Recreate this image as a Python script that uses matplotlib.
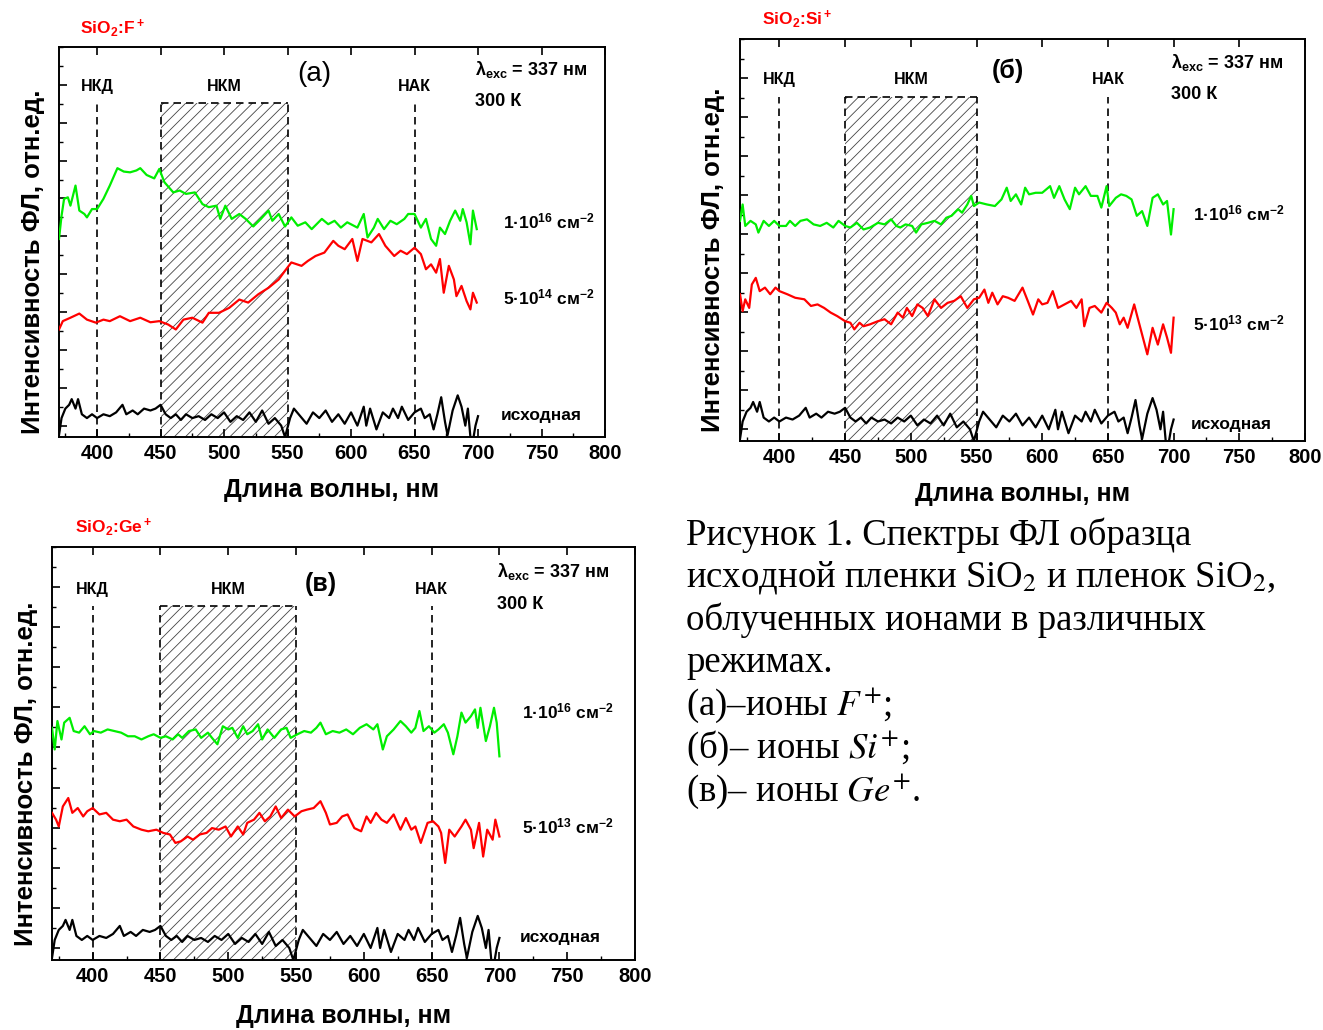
import matplotlib
matplotlib.use('Agg')
import matplotlib.pyplot as plt
from matplotlib.patches import Rectangle
from matplotlib.ticker import MultipleLocator

plt.rcParams['font.family'] = ['Liberation Sans', 'DejaVu Sans']
plt.rcParams['mathtext.fontset'] = 'custom'
plt.rcParams['mathtext.rm'] = 'Liberation Sans:bold'
plt.rcParams['mathtext.it'] = 'Liberation Sans:italic:bold'
plt.rcParams['mathtext.bf'] = 'Liberation Sans:bold'
plt.rcParams['hatch.linewidth'] = 0.6

# ---------------- data (relative units) ----------------
black_nm = [370, 372, 375, 378, 380, 383, 385, 388, 392, 396, 400, 405, 410, 415, 420, 423, 428, 432,
            437, 442, 446, 450, 454, 458, 462, 466, 470, 475, 480, 485, 490, 495, 500, 505, 510, 515,
            520, 525, 530, 535, 540, 545, 548, 552, 555, 560, 565, 570, 575, 580, 585, 590, 595, 600,
            605, 610, 612, 615, 620, 625, 630, 633, 637, 640, 645, 650, 655, 658, 662, 665, 668, 671,
            674, 676, 680, 684, 687, 690, 692, 694, 696, 698, 700]
black_v = [-0.25, 0.2, 0.45, 0.55, 0.7, 0.45, 0.7, 0.3, 0.2, 0.3, 0.2, 0.3, 0.25, 0.35, 0.55, 0.3, 0.4, 0.3,
           0.45, 0.4, 0.45, 0.55, 0.3, 0.2, 0.3, 0.15, 0.3, 0.2, 0.25, 0.15, 0.3, 0.2, 0.35, 0.1, 0.25, 0.15,
           0.35, 0.1, 0.4, 0.05, 0.2, 0.0, -0.3, 0.2, 0.45, 0.25, 0.05, 0.35, 0.2, 0.4, 0.1, 0.3, 0.05, 0.35,
           0.0, 0.5, 0.0, 0.45, -0.1, 0.35, 0.2, 0.45, 0.2, 0.5, 0.15, 0.35, 0.45, 0.2, 0.3, -0.1, 0.3, 0.75,
           0.1, -0.25, 0.4, 0.8, 0.5, 0.0, 0.45, -0.3, -0.4, 0.0, 0.25]

# panel (a) SiO2:F+
a_green_nm = [370, 372, 374, 377, 379, 383, 386, 390, 392, 396, 400, 405, 410, 416, 421, 426, 431, 434,
              439, 445, 449, 453, 460, 465, 470, 477, 483, 488, 494, 497, 501, 506, 512, 517, 523, 529,
              535, 538, 543, 548, 553, 558, 564, 569, 577, 582, 587, 592, 597, 605, 610, 613, 618, 621,
              626, 631, 636, 642, 645, 650, 655, 659, 663, 667, 670, 674, 678, 682, 686, 688, 691, 694,
              696, 699]
a_green_v = [4.93, 5.54, 5.99, 6.03, 5.81, 6.34, 5.68, 5.59, 5.50, 5.72, 5.72, 5.99, 6.34, 6.80, 6.71,
             6.69, 6.74, 6.80, 6.62, 6.53, 6.78, 6.43, 6.16, 6.21, 6.12, 6.16, 5.85, 5.77, 5.81, 5.46,
             5.81, 5.46, 5.59, 5.46, 5.26, 5.46, 5.68, 5.41, 5.59, 5.26, 5.50, 5.28, 5.37, 5.19, 5.46,
             5.32, 5.41, 5.23, 5.37, 5.23, 5.59, 4.97, 5.23, 5.46, 5.19, 5.41, 5.32, 5.46, 5.59, 5.59,
             5.23, 5.46, 4.93, 4.75, 5.23, 5.06, 5.41, 5.68, 5.41, 5.72, 5.37, 4.79, 5.68, 5.19]
a_red_nm = [370, 373, 379, 386, 392, 399, 405, 410, 418, 426, 434, 442, 449, 456, 462, 468, 475, 483,
            488, 496, 504, 512, 519, 527, 535, 543, 548, 553, 561, 566, 572, 579, 586, 590, 595, 601,
            605, 609, 616, 622, 627, 634, 639, 644, 650, 655, 659, 663, 667, 670, 673, 677, 681, 683,
            687, 691, 694, 696, 699]
a_red_v = [2.54, 2.76, 2.85, 2.96, 2.80, 2.72, 2.80, 2.76, 2.89, 2.76, 2.85, 2.73, 2.76, 2.67, 2.54,
           2.80, 2.85, 2.72, 2.98, 2.98, 3.11, 3.33, 3.25, 3.47, 3.64, 3.86, 4.09, 4.31, 4.22, 4.35,
           4.48, 4.57, 4.88, 4.75, 4.66, 4.93, 4.35, 4.93, 4.84, 5.06, 4.75, 4.48, 4.62, 4.53, 4.70,
           4.53, 4.13, 4.26, 4.04, 4.40, 3.51, 4.22, 3.86, 3.42, 3.69, 3.29, 3.07, 3.51, 3.25]

# panel (б) SiO2:Si+
b_green_nm = [370, 372, 374, 378, 382, 384, 388, 392, 396, 400, 405, 408, 412, 416, 421, 426, 431, 436,
              441, 445, 450, 454, 459, 464, 469, 475, 480, 485, 489, 492, 496, 501, 504, 508, 513, 518,
              523, 527, 531, 536, 539, 543, 546, 548, 552, 558, 564, 569, 573, 576, 580, 584, 587, 590,
              595, 600, 606, 609, 613, 617, 621, 625, 628, 633, 637, 642, 645, 649, 651, 656, 660, 664,
              668, 672, 676, 680, 684, 688, 692, 695, 698, 700]
b_green_v = [5.34, 5.76, 5.21, 5.34, 5.25, 5.04, 5.34, 5.21, 5.34, 5.21, 5.21, 5.34, 5.21, 5.34, 5.38,
             5.25, 5.21, 5.29, 5.17, 5.34, 5.21, 5.17, 5.29, 5.12, 5.17, 5.29, 5.25, 5.38, 5.21, 5.17,
             5.25, 5.21, 5.04, 5.25, 5.29, 5.34, 5.25, 5.42, 5.47, 5.64, 5.55, 5.76, 5.98, 5.72, 5.81,
             5.76, 5.72, 5.89, 6.19, 5.85, 6.02, 5.76, 6.19, 6.02, 6.06, 6.06, 6.23, 5.93, 6.23, 5.89,
             5.64, 6.19, 6.02, 6.23, 5.98, 5.98, 5.68, 6.23, 5.72, 5.93, 6.02, 5.98, 5.89, 5.47, 5.59,
             5.21, 5.93, 6.02, 5.76, 5.85, 4.99, 5.64]
b_red_nm = [370, 372, 374, 377, 379, 382, 385, 389, 393, 397, 400, 406, 412, 419, 424, 429, 434, 439,
            444, 450, 454, 457, 461, 464, 469, 475, 480, 485, 490, 494, 497, 501, 505, 509, 513, 518,
            523, 528, 533, 538, 543, 548, 552, 556, 559, 562, 566, 570, 574, 579, 585, 589, 593, 597,
            600, 604, 608, 612, 617, 622, 626, 630, 632, 636, 640, 645, 649, 653, 656, 659, 662, 665,
            670, 672, 676, 680, 684, 688, 692, 695, 698, 700]
b_red_v = [3.46, 3.03, 3.33, 3.11, 3.71, 3.88, 3.54, 3.63, 3.46, 3.63, 3.54, 3.46, 3.37, 3.33, 3.16,
           3.20, 3.11, 2.99, 2.90, 2.77, 2.73, 2.56, 2.73, 2.64, 2.69, 2.77, 2.82, 2.69, 2.99, 2.86,
           3.11, 2.90, 3.20, 3.11, 2.90, 3.33, 3.11, 3.24, 3.29, 3.41, 3.11, 3.33, 3.37, 3.58, 3.24,
           3.50, 3.20, 3.41, 3.37, 3.29, 3.63, 3.29, 2.94, 3.33, 3.20, 3.24, 3.54, 3.11, 3.20, 3.29,
           3.11, 3.33, 2.64, 3.11, 3.16, 2.99, 3.24, 3.11, 2.99, 2.69, 2.86, 2.60, 3.20, 2.94, 2.43,
           1.92, 2.60, 2.17, 2.69, 2.35, 1.96, 2.86]

# panel (в) SiO2:Ge+
c_green_nm = [370, 372, 374, 377, 379, 383, 386, 390, 394, 398, 401, 406, 411, 416, 421, 426, 431, 436,
              441, 445, 450, 454, 459, 463, 466, 471, 476, 480, 485, 488, 492, 496, 500, 503, 507, 511,
              514, 518, 522, 525, 529, 534, 539, 543, 546, 551, 556, 561, 565, 568, 572, 577, 582, 587,
              592, 597, 602, 607, 610, 614, 617, 622, 627, 631, 635, 638, 641, 644, 648, 652, 655, 659,
              662, 666, 669, 672, 675, 679, 682, 684, 686, 690, 693, 696, 698, 700]
c_green_v = [5.49, 4.95, 5.66, 5.20, 5.62, 5.74, 5.41, 5.37, 5.53, 5.33, 5.41, 5.37, 5.45, 5.41, 5.37,
             5.28, 5.28, 5.20, 5.28, 5.33, 5.24, 5.28, 5.20, 5.33, 5.24, 5.41, 5.45, 5.24, 5.37, 5.24,
             5.08, 5.53, 5.45, 5.49, 5.24, 5.53, 5.33, 5.41, 5.58, 5.20, 5.45, 5.24, 5.45, 5.49, 5.24,
             5.33, 5.41, 5.37, 5.49, 5.62, 5.33, 5.41, 5.37, 5.45, 5.33, 5.49, 5.58, 5.45, 5.58, 4.95,
             5.28, 5.45, 5.66, 5.53, 5.37, 5.49, 5.91, 5.41, 5.53, 5.37, 5.45, 5.58, 5.37, 4.83, 5.28,
             5.87, 5.62, 5.78, 5.95, 5.49, 5.99, 5.16, 5.53, 5.99, 5.62, 4.78]
c_red_nm = [370, 373, 375, 378, 382, 385, 389, 393, 396, 400, 405, 410, 415, 420, 425, 430, 436, 441,
            447, 452, 457, 461, 465, 470, 474, 479, 484, 488, 493, 498, 502, 507, 511, 514, 519, 523,
            527, 531, 535, 539, 544, 549, 554, 558, 563, 568, 572, 575, 580, 584, 588, 593, 598, 602,
            605, 609, 613, 617, 622, 627, 631, 635, 638, 642, 647, 651, 655, 657, 660, 663, 667, 672,
            675, 679, 681, 685, 688, 691, 695, 697, 700]
c_red_v = [3.37, 3.20, 3.03, 3.53, 3.74, 3.37, 3.49, 3.28, 3.41, 3.49, 3.33, 3.37, 3.20, 3.16, 3.20,
           3.03, 2.95, 2.91, 2.95, 2.87, 2.83, 2.62, 2.66, 2.78, 2.70, 2.83, 2.87, 2.99, 2.95, 3.03,
           2.78, 3.03, 2.83, 3.12, 3.20, 3.37, 3.16, 3.28, 3.53, 3.24, 3.45, 3.28, 3.41, 3.45, 3.49,
           3.66, 3.37, 3.08, 3.12, 3.28, 3.33, 2.99, 2.91, 3.28, 3.12, 3.37, 3.20, 3.12, 3.33, 2.95,
           3.24, 2.95, 3.03, 2.62, 3.12, 3.16, 3.03, 2.87, 2.12, 2.95, 2.78, 3.03, 3.20, 2.95, 2.49,
           3.12, 2.28, 2.95, 2.70, 3.20, 2.78]

xticks = [400, 450, 500, 550, 600, 650, 700, 750, 800]
region_lines = [400, 650]
region_names = ['НКД', 'НАК']
nkm_range = [450, 550]
nkm_top = 8.52
ymin, ymax = -0.3, 10.0

W, H = 1323, 1030
fig = plt.figure(figsize=(W / 100, H / 100), dpi=100)


def px_axes(l, t, r, b):
    return fig.add_axes([l / W, 1 - b / H, (r - l) / W, (b - t) / H])


def panel(ax, title, title_xy, letter, letter_kw, hi_label, lo_label,
          gnm, gv, rnm, rv, lab_x, hi_y, lo_y, base_y, ylab_x, xlab_y):
    ax.set_xlim(370, 800)
    ax.set_ylim(ymin, ymax)
    # hatched НКМ region
    ax.add_patch(Rectangle((nkm_range[0], ymin), nkm_range[1] - nkm_range[0], nkm_top - ymin,
                           facecolor='none', edgecolor='#444444', hatch='///', lw=0, zorder=1))
    dash = (0, (4.5, 3))
    for x in nkm_range:
        ax.plot([x, x], [ymin, nkm_top], color='black', lw=1.2, ls=dash, zorder=2)
    ax.plot(nkm_range, [nkm_top, nkm_top], color='black', lw=1.2, ls=dash, zorder=2)
    for x in region_lines:
        ax.plot([x, x], [ymin, nkm_top], color='black', lw=1.2, ls=dash, zorder=2)
    for x, n in zip(region_lines, region_names):
        ax.text(x, 8.95, n, ha='center', va='center', fontsize=11.5, fontweight='bold')
    ax.text(500, 8.95, 'НКМ', ha='center', va='center', fontsize=11.5, fontweight='bold')

    ax.plot(black_nm, black_v, color='black', lw=1.6, zorder=3)
    ax.plot(rnm, rv, color='#ff0000', lw=1.6, zorder=3)
    ax.plot(gnm, gv, color='#00ee00', lw=1.6, zorder=3)

    ax.text(letter[1], letter[2], letter[0], ha='center', va='center', **letter_kw)
    ax.text(698, 9.4, 'λ$_{\\mathrm{exc}}$ = 337 нм', ha='left', va='center',
            fontsize=13, fontweight='bold')
    ax.text(698, 8.57, '300 К', ha='left', va='center', fontsize=13, fontweight='bold')
    ax.text(lab_x, hi_y, hi_label, ha='left', va='center', fontsize=12.5, fontweight='bold')
    ax.text(lab_x, lo_y, lo_label, ha='left', va='center', fontsize=12.5, fontweight='bold')
    ax.text(lab_x - 2, base_y, 'исходная', ha='left', va='center', fontsize=12.5, fontweight='bold')

    ax.set_xticks(xticks)
    ax.xaxis.set_minor_locator(MultipleLocator(25))
    ax.set_yticks(range(0, 10))
    ax.yaxis.set_minor_locator(MultipleLocator(0.5))
    ax.set_yticklabels([])
    ax.tick_params(axis='x', which='major', direction='in', length=6, width=1.2, top=True,
                   labelsize=14.5, pad=5)
    ax.tick_params(axis='x', which='minor', direction='in', length=3, width=1.0, top=False)
    ax.tick_params(axis='y', which='major', direction='in', length=6, width=1.2, right=False)
    ax.tick_params(axis='y', which='minor', direction='in', length=3, width=1.0, right=False)
    for lab in ax.get_xticklabels():
        lab.set_fontweight('bold')
    for s in ax.spines.values():
        s.set_linewidth(1.4)

    fig.text(title_xy[0] / W, 1 - title_xy[1] / H, title, color='#ff0000', fontsize=12.5,
             fontweight='bold', ha='left', va='center')
    bb = ax.get_position()
    fig.text(ylab_x / W, bb.y0 + bb.height * 0.45, 'Интенсивность ФЛ, отн.ед.', rotation=90,
             ha='center', va='center', fontsize=18.5, fontweight='bold')
    fig.text(bb.x0 + bb.width * 0.5, 1 - xlab_y / H, 'Длина волны, нм', ha='center',
             va='center', fontsize=18, fontweight='bold')


ax_a = px_axes(59, 47, 605, 437)
panel(ax_a, 'SiO$_2$:F$^+$', (80, 28), ('(a)', 571, 9.3), dict(fontsize=20),
      '1·10$^{16}$ см$^{-2}$', '5·10$^{14}$ см$^{-2}$',
      a_green_nm, a_green_v, a_red_nm, a_red_v, 720, 5.4, 3.39, 0.28, 33, 490)

ax_b = px_axes(740, 39, 1305, 441)
panel(ax_b, 'SiO$_2$:Si$^+$', (762, 19), ('(б)', 574, 9.18), dict(fontsize=18, fontweight='bold'),
      '1·10$^{16}$ см$^{-2}$', '5·10$^{13}$ см$^{-2}$',
      b_green_nm, b_green_v, b_red_nm, b_red_v, 715, 5.54, 2.70, 0.13, 713, 494)

ax_c = px_axes(52, 547, 635, 960)
panel(ax_c, 'SiO$_2$:Ge$^+$', (75, 527), ('(в)', 568, 9.08), dict(fontsize=18, fontweight='bold'),
      '1·10$^{16}$ см$^{-2}$', '5·10$^{13}$ см$^{-2}$',
      c_green_nm, c_green_v, c_red_nm, c_red_v, 717, 5.9, 3.03, 0.25, 26, 1016)

caption = ['Рисунок 1. Спектры ФЛ образца',
           'исходной пленки SiO$_2$ и пленок SiO$_2$,',
           'облученных ионами в различных',
           'режимах.',
           '(а)–ионы $F^{+}$;',
           '(б)– ионы $Si^{+}$;',
           '(в)– ионы $Ge^{+}$.']
for i, line in enumerate(caption):
    fig.text(686 / W, 1 - (535 + i * 42.7) / H, line, family=['Liberation Serif', 'DejaVu Serif'],
             fontsize=26.5, ha='left', va='center', math_fontfamily='stix')

fig.savefig('out.png', dpi=100)
